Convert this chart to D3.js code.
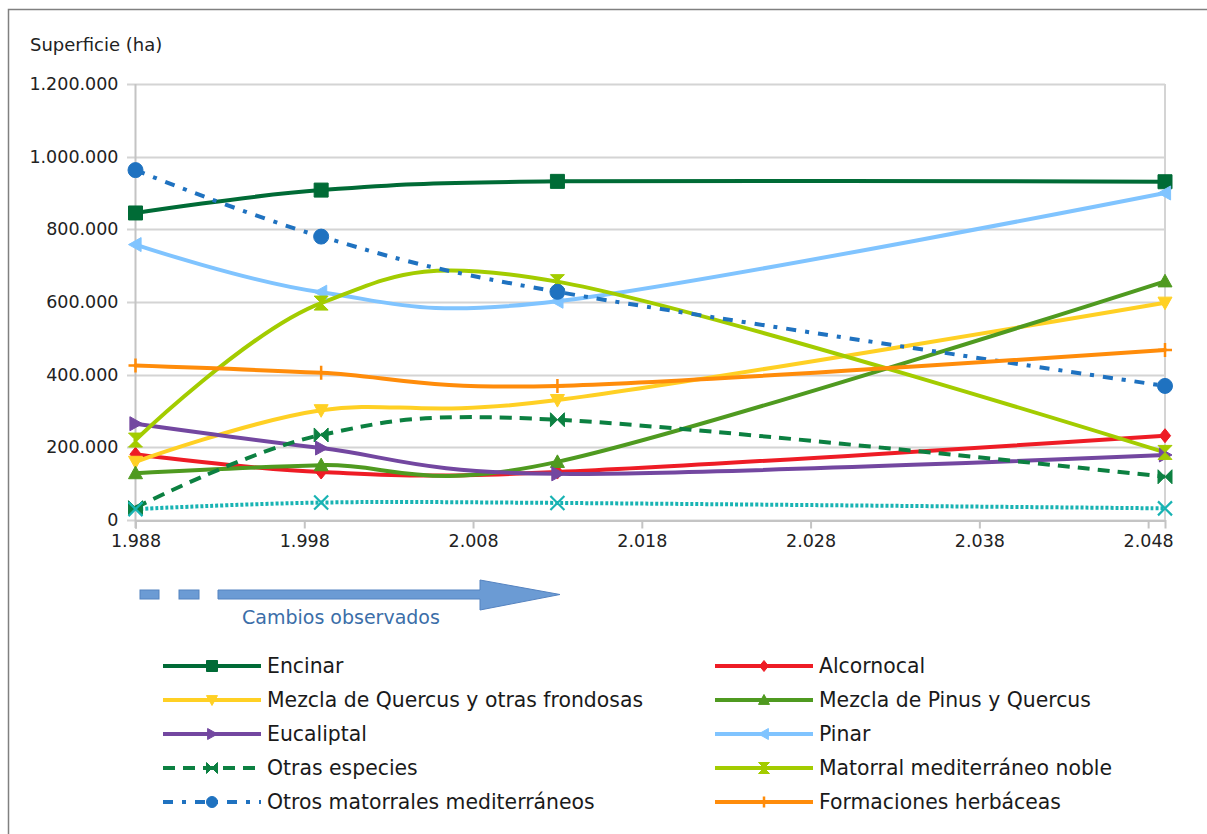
<!DOCTYPE html>
<html><head><meta charset="utf-8">
<script src="https://cdn.jsdelivr.net/npm/d3@7"></script>
<style>
html,body{margin:0;padding:0;background:#fff;}
svg{display:block;font-family:"DejaVu Sans",sans-serif;}
</style></head>
<body><svg id="c" width="1207" height="834"></svg>
<script>
// ---- data ----
const years = [1988, 1999, 2013, 2049];
const xTicks = [1988, 1998, 2008, 2018, 2028, 2038, 2048];
const yTicks = [0, 200000, 400000, 600000, 800000, 1000000, 1200000];
const seriesNames = ["Encinar","Alcornocal","Mezcla de Quercus y otras frondosas","Mezcla de Pinus y Quercus","Eucaliptal","Pinar","Otras especies","Matorral mediterráneo noble","Otros matorrales mediterráneos","Formaciones herbáceas","Otros"];
const encinar = [845000, 908000, 932000, 931000];
const alcornocal = [181000, 132000, 132000, 232000];
const mezclaQuercus = [160000, 302000, 330000, 598000];
const mezclaPinus = [129000, 151000, 160000, 657000];
const eucaliptal = [265000, 198000, 127000, 179000];
const pinar = [758000, 627000, 602000, 900000];
const otrasEspecies = [34000, 234000, 276000, 119000];
const matorralNoble = [220000, 597000, 656000, 186000];
const otrosMatorrales = [963000, 780000, 628000, 369000];
const herbaceas = [425000, 405000, 369000, 468000];
const otros = [30000, 48000, 47000, 32000];
const seriesValues = [encinar, alcornocal, mezclaQuercus, mezclaPinus, eucaliptal, pinar, otrasEspecies, matorralNoble, otrosMatorrales, herbaceas, otros];
const yTitle = "Superficie (ha)";
const arrowLabel = "Cambios observados";

// ---- styles ----
const colors = ["#006b36","#ee1c25","#ffd024","#4f9a20","#7347a0","#80c4ff","#0c8041","#a3cc00","#1f72c0","#ff8c0a","#18b3b3"];
const markers = ["square","diamond","triDown","triUp","triRight","triLeft","bowtie","hourglass","circle","plus","x"];
const dashes = [null,null,null,null,null,null,"12,8",null,"10,9,4,9",null,"3,2"];
const inLegend = [true,true,true,true,true,true,true,true,true,true,false];

const svg = d3.select("#c");
svg.append("rect").attr("width",1207).attr("height",834).attr("fill","#fff");
// outer border
svg.append("path").attr("d","M8.5,834V9.5H1207").attr("fill","none").attr("stroke","#808080").attr("stroke-width",1.5);

const x = d3.scaleLinear().domain([1988, 2049]).range([135.5, 1165]);
const y = d3.scaleLinear().domain([0, 1200000]).range([520, 84]);
const loc = d3.formatLocale({decimal:",", thousands:".", grouping:[3], currency:["","€"]});
const fmt = loc.format(",d");

// gridlines
const g = svg.append("g");
g.selectAll("line.grid").data(yTicks).join("line")
  .attr("x1", 127).attr("x2", x.range()[1])
  .attr("y1", d=>Math.round(y(d))+0.5).attr("y2", d=>Math.round(y(d))+0.5)
  .attr("stroke","#d4d4d4").attr("stroke-width",2);
// right plot border
g.append("line").attr("x1",x.range()[1]).attr("x2",x.range()[1]).attr("y1",y(1200000)).attr("y2",y(0))
  .attr("stroke","#d4d4d4").attr("stroke-width",2);
// y axis line
g.append("line").attr("x1",x.range()[0]).attr("x2",x.range()[0]).attr("y1",y(1200000)).attr("y2",y(0)+8)
  .attr("stroke","#c4c4c4").attr("stroke-width",2);
// x axis
const xAxis = d3.axisBottom(x).tickValues(xTicks).tickSize(8).tickPadding(6).tickFormat(fmt);
const xa = svg.append("g").attr("transform",`translate(0,${y(0)+0.5})`).call(xAxis);
xa.select(".domain").attr("stroke","#c4c4c4").attr("stroke-width",2);
xa.selectAll(".tick line").attr("stroke","#c4c4c4").attr("stroke-width",2);
xa.selectAll(".tick text").attr("font-size",17.5).attr("fill","#222").attr("font-family","DejaVu Sans");
// y axis labels
const yAxis = d3.axisLeft(y).tickValues(yTicks).tickSize(0).tickPadding(17).tickFormat(fmt);
const ya = svg.append("g").attr("transform",`translate(${x.range()[0]},0)`).call(yAxis);
ya.select(".domain").remove();
ya.selectAll(".tick text").attr("font-size",17.5).attr("fill","#222").attr("font-family","DejaVu Sans");
svg.append("text").attr("x",30).attr("y",51).attr("font-size",18).attr("fill","#222").text(yTitle);

// marker paths
function markerPath(type, s){
  const h = s/2;
  switch(type){
    case "square": return `M${-h},${-h}H${h}V${h}H${-h}Z`;
    case "diamond": return `M0,${-h}L${h*0.8},0L0,${h}L${-h*0.8},0Z`;
    case "triUp": return `M0,${-h}L${h},${h*0.8}H${-h}Z`;
    case "triDown": return `M0,${h}L${h},${-h*0.8}H${-h}Z`;
    case "triRight": return `M${h},0L${-h*0.8},${-h}V${h}Z`;
    case "triLeft": return `M${-h},0L${h*0.8},${-h}V${h}Z`;
    case "bowtie": return `M${-h},${-h}L0,0L${-h},${h}Z M${h},${-h}L0,0L${h},${h}Z`;
    case "hourglass": return `M${-h},${-h}H${h}L0,0Z M${-h},${h}H${h}L0,0Z`;
    case "circle": return d3.symbol(d3.symbolCircle, Math.PI*h*h)();
    case "plus": return `M0,${-h}V${h}M${-h},0H${h}`;
    case "x": return `M${-h},${-h}L${h},${h}M${h},${-h}L${-h},${h}`;
  }
}
function drawMarker(sel, type, color, s){
  const p = sel.append("path").attr("d", markerPath(type, s));
  if (type==="plus" || type==="x") p.attr("fill","none").attr("stroke",color).attr("stroke-width",type==="x"?2.2:2.5);
  else p.attr("fill",color).attr("stroke",color).attr("stroke-width",1);
  return p;
}

const line = d3.line().x(d=>x(d[0])).y(d=>y(d[1])).curve(d3.curveCardinal.tension(0));
const plot = svg.append("g");
seriesValues.forEach((vals,i)=>{
  const pts = years.map((yr,k)=>[yr, vals[k]]);
  plot.append("path").attr("d", line(pts)).attr("fill","none")
    .attr("stroke", colors[i]).attr("stroke-width", 4)
    .attr("stroke-linecap", dashes[i] ? "butt" : "round")
    .attr("stroke-dasharray", dashes[i]);
});
seriesValues.forEach((vals,i)=>{
  years.forEach((yr,k)=>{
    const mg = plot.append("g").attr("transform",`translate(${x(yr)},${y(vals[k])})`);
    drawMarker(mg, markers[i], colors[i], markers[i]==="circle"?15:14);
  });
});

// arrow "Cambios observados"
const ag = svg.append("g");
const aFill = "#6b9bd4", aStroke = "#5583c0";
ag.append("rect").attr("x",140).attr("y",590).attr("width",19).attr("height",9).attr("fill",aFill).attr("stroke",aStroke);
ag.append("rect").attr("x",179).attr("y",590).attr("width",20).attr("height",9).attr("fill",aFill).attr("stroke",aStroke);
ag.append("path").attr("d","M218,590H480V580L560,594.5L480,610V599H218Z").attr("fill",aFill).attr("stroke",aStroke);
ag.append("text").attr("x",242).attr("y",624).attr("font-size",19).attr("fill","#3b6ea8").text(arrowLabel);

// legend
const legIdx = seriesNames.map((n,i)=>i).filter(i=>inLegend[i]);
const lg = svg.append("g");
legIdx.forEach((i,k)=>{
  const col = k%2, row = Math.floor(k/2);
  const lx = col===0 ? 163 : 715;
  const ly = 666 + row*34;
  const it = lg.append("g").attr("transform",`translate(${lx},${ly})`);
  it.append("line").attr("x1",0).attr("x2",98).attr("y1",0).attr("y2",0)
    .attr("stroke",colors[i]).attr("stroke-width",4).attr("stroke-dasharray",dashes[i]);
  const mg = it.append("g").attr("transform","translate(49,0)");
  drawMarker(mg, markers[i], colors[i], 11);
  it.append("text").attr("x",104).attr("y",0).attr("dy","0.36em").attr("font-size",20.4).attr("fill","#1a1a1a").text(seriesNames[i]);
});
</script></body></html>
